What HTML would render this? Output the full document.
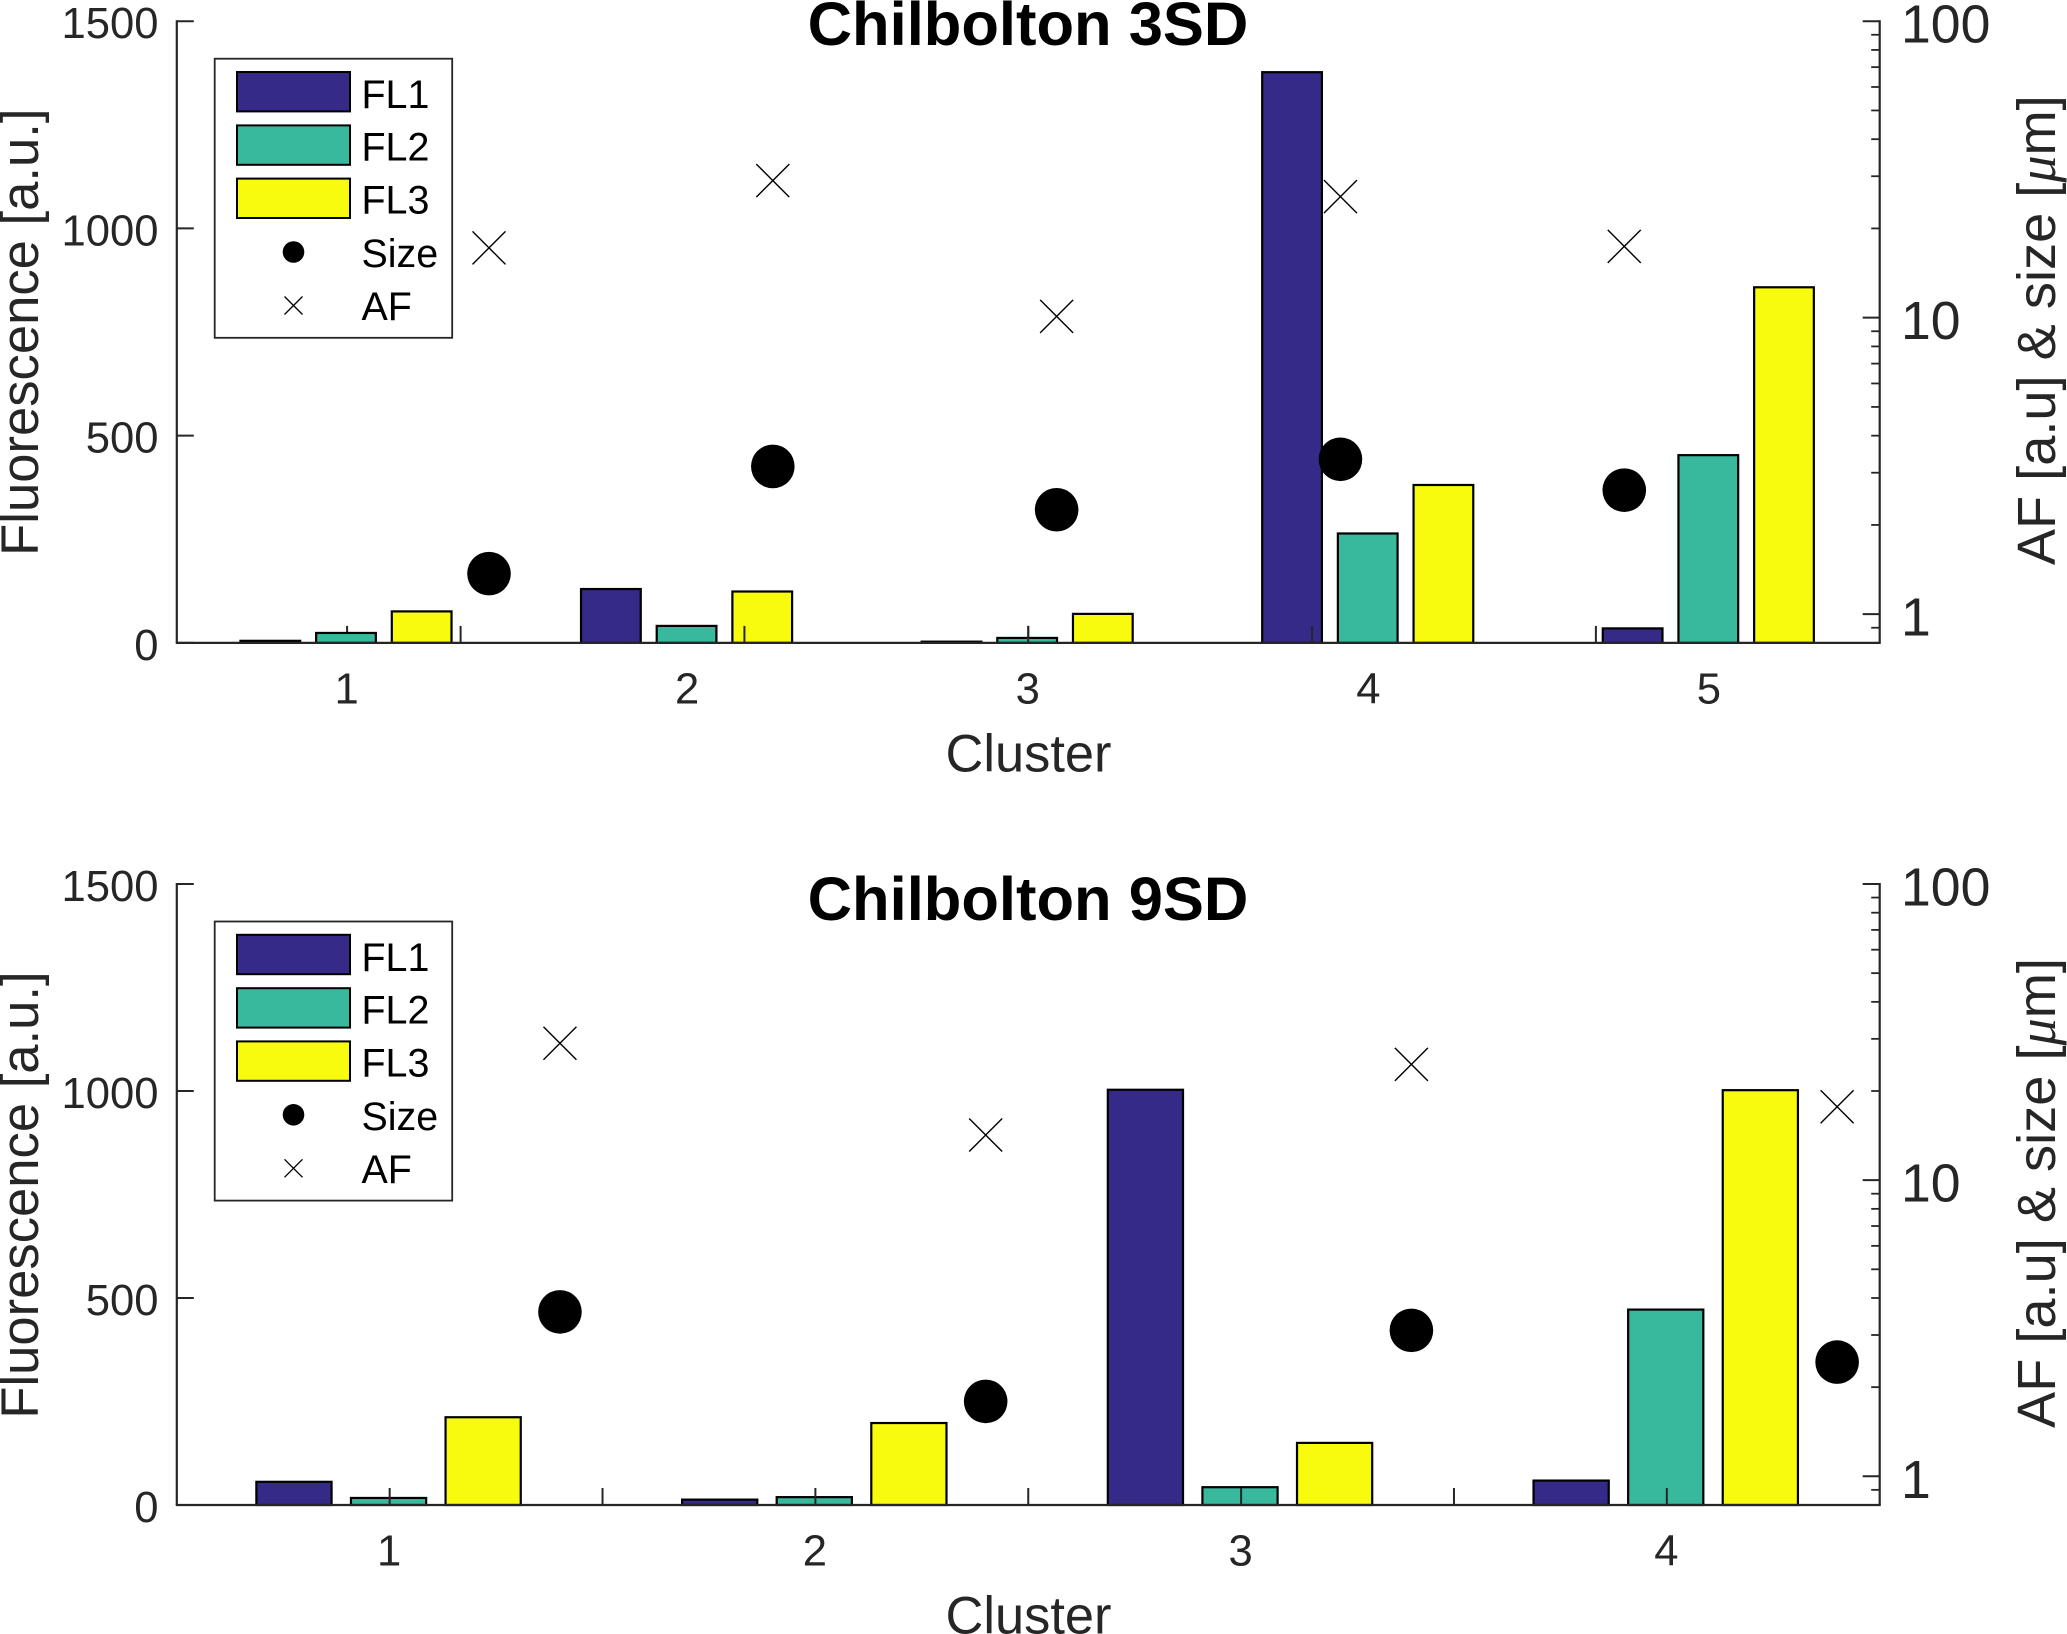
<!DOCTYPE html>
<html lang="en">
<head>
<meta charset="utf-8">
<title>Chilbolton 3SD and 9SD clusters</title>
<style>
html,body{margin:0;padding:0;background:#fff;}
svg{display:block;}
text{font-family:"Liberation Sans",sans-serif;}
</style>
</head>
<body>
<svg id="chart" xmlns="http://www.w3.org/2000/svg" width="2067" height="1634" viewBox="0 0 2067 1634"></svg>
<script>
// ---- data: Chilbolton 3SD ----
const clusters3SD = [1, 2, 3, 4, 5];
const fl1Values3SD = [5, 130, 3, 1377, 35];
const fl2Values3SD = [24, 41, 12, 264, 453];
const fl3Values3SD = [76, 124, 70, 381, 858];
const sizeValues3SD = [1.37, 3.15, 2.25, 3.33, 2.62];
const afValues3SD = [17.2, 29, 10.1, 25.6, 17.4];
const markerCats3SD = [1.1, 2.1, 3.1, 4.1, 5.1];
const secondaryTicks3SD = [1, 2, 3, 4, 5];

// ---- data: Chilbolton 9SD ----
const clusters9SD = [1, 2, 3, 4];
const fl1Values9SD = [56, 13, 1003, 59];
const fl2Values9SD = [17, 19, 43, 472];
const fl3Values9SD = [212, 198, 150, 1002];
const sizeValues9SD = [3.59, 1.79, 3.11, 2.43];
const afValues9SD = [29, 14.2, 24.6, 17.7];
const markerCats9SD = [0.9, 1.9, 2.9, 3.9];
const secondaryTicks9SD = [1, 2, 3];

// ---- shared tick values and labels ----
const leftTicks = [0, 500, 1000, 1500];
const rightMajorTicks = [1, 10, 100];
const rightMinorTicks = [0.8, 0.9, 2, 3, 4, 5, 6, 7, 8, 9, 20, 30, 40, 50, 60, 70, 80, 90];
const seriesNames = ['FL1', 'FL2', 'FL3'];
const seriesColors = ['#352a87', '#38b99e', '#f9fb0e'];

const NS = 'http://www.w3.org/2000/svg';
const svg = document.getElementById('chart');
const INK = '#262626';

function make(parent, tag, attrs, content) {
  const el = document.createElementNS(NS, tag);
  for (const k in attrs) el.setAttribute(k, attrs[k]);
  if (content !== undefined) el.textContent = content;
  parent.appendChild(el);
  return el;
}

function drawPanel(cfg) {
  const g = make(svg, 'g', {});
  
  

  // axis functions
  const xMain = v => cfg.left + (v - cfg.xMin) / (cfg.xMax - cfg.xMin) * (cfg.right - cfg.left);
  const xSecond = v => cfg.left + (v - cfg.x2Min) / (cfg.x2Max - cfg.x2Min) * (cfg.right - cfg.left);
  const yLin = v => cfg.bottom - v / 1500 * (cfg.bottom - cfg.top);
  const yLog = v => cfg.bottom - (Math.log10(v) - Math.log10(0.8)) / (2 - Math.log10(0.8)) * (cfg.bottom - cfg.top);
  const unit = xMain(1) - xMain(0);

  function drawMainXTicks() {
    cfg.clusters.forEach(c => {
      const t = make(g, 'line', {x1: xMain(c), x2: xMain(c), y1: cfg.bottom, y2: cfg.bottom - 17, stroke: INK, 'stroke-width': 2});
      
      
    });
  }

  if (!cfg.mainTicksOnTop) drawMainXTicks();

  // bars
  cfg.series.forEach((values, s) => {
    values.forEach((v, i) => {
      const cx = xMain(cfg.clusters[i]) + (s - 1) * 0.2222 * unit;
      const w = 0.1818 * unit;
      const r = make(g, 'rect', {x: cx - w / 2, y: yLin(v), width: w - 2.2, height: cfg.bottom - yLin(v), fill: seriesColors[s], stroke: '#000', 'stroke-width': 2.2});
      
      
    });
  });

  if (cfg.mainTicksOnTop) drawMainXTicks();

  // secondary x-axis ticks
  cfg.secondaryTicks.forEach(c => {
    const t = make(g, 'line', {x1: xSecond(c), x2: xSecond(c), y1: cfg.bottom, y2: cfg.bottom - 17, stroke: INK, 'stroke-width': 2});
    
    
  });

  // axes lines
  const xAxis = make(g, 'line', {x1: cfg.left - 1, x2: cfg.right + 1, y1: cfg.bottom, y2: cfg.bottom, stroke: INK, 'stroke-width': 2.2});
  
  
  const yLeft = make(g, 'line', {x1: cfg.left, x2: cfg.left, y1: cfg.top - 1, y2: cfg.bottom, stroke: INK, 'stroke-width': 2.2});
  
  
  const yRight = make(g, 'line', {x1: cfg.right, x2: cfg.right, y1: cfg.top - 1, y2: cfg.bottom, stroke: INK, 'stroke-width': 2.2});
  
  

  // left ticks + labels
  leftTicks.forEach(v => {
    const t = make(g, 'line', {x1: cfg.left, x2: cfg.left + 17, y1: yLin(v), y2: yLin(v), stroke: INK, 'stroke-width': 2});
    
    
    const l = make(g, 'text', {x: 158.5, y: yLin(v) + 17, 'text-anchor': 'end', 'font-size': 43.6, fill: INK}, String(v));
    
    
  });

  // right ticks + labels
  rightMajorTicks.forEach(v => {
    const t = make(g, 'line', {x1: cfg.right, x2: cfg.right - 17, y1: yLog(v), y2: yLog(v), stroke: INK, 'stroke-width': 2});
    
    
    const l = make(g, 'text', {x: 1901, y: yLog(v) + 21.5, 'font-size': 53.6, fill: INK}, String(v));
    
    
  });
  rightMinorTicks.forEach(v => {
    const t = make(g, 'line', {x1: cfg.right, x2: cfg.right - 8.5, y1: yLog(v), y2: yLog(v), stroke: INK, 'stroke-width': 1.8});
    
    
  });

  // x tick labels
  cfg.clusters.forEach(c => {
    const l = make(g, 'text', {x: xMain(c) - 0.5, y: cfg.bottom + 60.5, 'text-anchor': 'middle', 'font-size': 43.6, fill: INK}, String(c));
    
    
  });

  // titles
  const xt = make(g, 'text', {x: 1028.5, y: cfg.bottom + 128.5, 'text-anchor': 'middle', 'font-size': 52.4, fill: INK}, 'Cluster');
  
  

  const yCenter = cfg.top + 311;
  const yt = make(g, 'text', {transform: 'translate(38 ' + yCenter + ') rotate(-90)', 'text-anchor': 'middle', 'font-size': 52.6, fill: INK}, 'Fluorescence [a.u.]');
  
  

  const yr = make(g, 'text', {transform: 'translate(2055 ' + (yCenter - 2) + ') rotate(-90)', 'text-anchor': 'middle', 'font-size': 54.2, fill: INK});
  
  
  make(yr, 'tspan', {}, 'AF [a.u] & size [');
  const mu = make(yr, 'tspan', {'font-family': '"Liberation Serif",serif', 'font-style': 'italic'}, 'μ');
  
  
  make(yr, 'tspan', {}, 'm]');

  const title = make(g, 'text', {x: 1028, y: cfg.titleY, 'text-anchor': 'middle', 'font-size': 61.5, 'font-weight': 'bold', fill: '#000'}, cfg.title);
  
  

  // size markers
  cfg.sizeValues.forEach((v, i) => {
    const c = make(g, 'circle', {cx: xSecond(cfg.markerCats[i]), cy: yLog(v), r: 21.8, fill: '#000'});
    
    
  });

  // AF markers
  cfg.afValues.forEach((v, i) => {
    const px = xSecond(cfg.markerCats[i]), py = yLog(v), h = 16.5;
    const p = make(g, 'path', {d: 'M' + (px - h) + ' ' + (py - h) + 'L' + (px + h) + ' ' + (py + h) + 'M' + (px - h) + ' ' + (py + h) + 'L' + (px + h) + ' ' + (py - h), stroke: '#000', 'stroke-width': 1.4, fill: 'none'});
    
    
  });

  // legend
  const dy = cfg.top - 21.2;
  const lg = make(g, 'g', {transform: 'translate(0 ' + dy + ')'});
  
  
  const box = make(lg, 'rect', {x: 214.7, y: 58.7, width: 237.5, height: 279.1, fill: '#fff', stroke: INK, 'stroke-width': 1.8});
  
  
  const swatchTops = [72, 125.4, 178.6];
  const labelBaselines = [108, 160.5, 213.5, 267, 320];
  seriesNames.forEach((n, i) => {
    const sw = make(lg, 'rect', {x: 237, y: swatchTops[i], width: 113, height: 39.4, fill: seriesColors[i], stroke: '#000', 'stroke-width': 2});
    
    
    const t = make(lg, 'text', {x: 361.5, y: labelBaselines[i], 'font-size': 39.4, fill: '#000'}, n);
    
    
  });
  const ls = make(lg, 'ellipse', {cx: 293.5, cy: 252, rx: 10.8, ry: 10.8, fill: '#000'});
  
  
  const lst = make(lg, 'text', {x: 361.5, y: labelBaselines[3], 'font-size': 39.4, fill: '#000'}, 'Size');
  
  
  const la = make(lg, 'path', {d: 'M284.5 296.5L302.5 314.5M284.5 314.5L302.5 296.5', stroke: '#000', 'stroke-width': 1.3, fill: 'none'});
  
  
  const lat = make(lg, 'text', {x: 361.5, y: labelBaselines[4], 'font-size': 39.4, fill: '#000'}, 'AF');
  
  
}

drawPanel({
  name: 'panel-3sd', title: 'Chilbolton 3SD', titleY: 45,
  left: 176.8, right: 1879.7, top: 21.2, bottom: 642.9,
  xMin: 0.5, xMax: 5.5, x2Min: 0, x2Max: 6, mainTicksOnTop: false,
  clusters: clusters3SD, series: [fl1Values3SD, fl2Values3SD, fl3Values3SD],
  sizeValues: sizeValues3SD, afValues: afValues3SD,
  markerCats: markerCats3SD, secondaryTicks: secondaryTicks3SD
});
drawPanel({
  name: 'panel-9sd', title: 'Chilbolton 9SD', titleY: 920,
  left: 176.8, right: 1879.7, top: 884, bottom: 1505,
  xMin: 0.5, xMax: 4.5, x2Min: 0, x2Max: 4, mainTicksOnTop: true,
  clusters: clusters9SD, series: [fl1Values9SD, fl2Values9SD, fl3Values9SD],
  sizeValues: sizeValues9SD, afValues: afValues9SD,
  markerCats: markerCats9SD, secondaryTicks: secondaryTicks9SD
});
</script>
</body>
</html>
